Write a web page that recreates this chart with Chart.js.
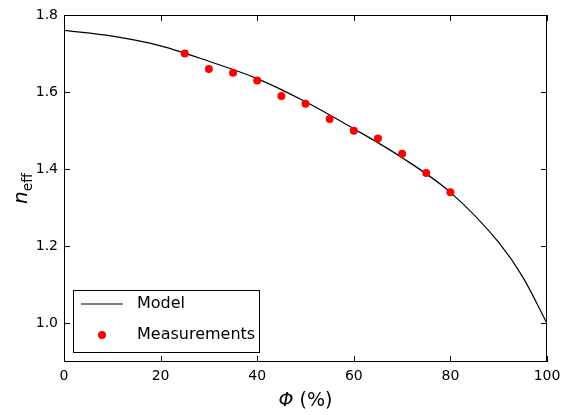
<!DOCTYPE html>
<html>
<head>
<meta charset="utf-8">
<script src="https://cdn.jsdelivr.net/npm/chart.js@4/dist/chart.umd.min.js"></script>
<style>
  body { margin: 0; background: #fff; }
  #wrap { width: 561px; height: 415px; }
</style>
</head>
<body>
<div id="wrap"><canvas id="c"></canvas></div>
<script>
const modelX = [0, 10, 20, 30, 40, 50, 60, 70, 80, 90, 95, 100];
const modelY = [1.76, 1.745, 1.72, 1.68, 1.635, 1.575, 1.505, 1.43, 1.34, 1.21, 1.12, 1.0];
const measX = [25, 30, 35, 40, 45, 50, 55, 60, 65, 70, 75, 80];
const measY = [1.70, 1.66, 1.65, 1.63, 1.59, 1.57, 1.53, 1.50, 1.48, 1.44, 1.39, 1.34];
const xTicks = [0, 20, 40, 60, 80, 100];
const yTicks = [1.0, 1.2, 1.4, 1.6, 1.8];
const FONT = 'DejaVu Sans';

const decor = {
  id: 'decor',
  afterDraw(chart) {
    const ctx = chart.ctx, a = chart.chartArea;
    const xs = chart.scales.x, ys = chart.scales.y;
    ctx.save();
    ctx.strokeStyle = '#000';
    ctx.lineWidth = 1;
    ctx.strokeRect(a.left + 0.5, a.top + 0.5, a.right - a.left - 1, a.bottom - a.top - 1);
    // inward ticks on all sides
    ctx.beginPath();
    xTicks.forEach(v => {
      const p = Math.round(xs.getPixelForValue(v)) + 0.5;
      ctx.moveTo(p, a.bottom); ctx.lineTo(p, a.bottom - 6);
      ctx.moveTo(p, a.top); ctx.lineTo(p, a.top + 6);
    });
    yTicks.forEach(v => {
      const p = Math.round(ys.getPixelForValue(v)) + 0.5;
      ctx.moveTo(a.left, p); ctx.lineTo(a.left + 6, p);
      ctx.moveTo(a.right, p); ctx.lineTo(a.right - 6, p);
    });
    ctx.stroke();
    // axis titles
    ctx.fillStyle = '#000';
    ctx.textBaseline = 'alphabetic';
    const cx = (a.left + a.right) / 2;
    const s1 = 'Φ', s2 = ' (%)';
    ctx.font = 'italic 19px ' + FONT; const w1 = ctx.measureText(s1).width;
    ctx.font = '19px ' + FONT; const w2 = ctx.measureText(s2).width;
    const x0 = cx - (w1 + w2) / 2;
    ctx.font = 'italic 19px ' + FONT; ctx.fillText(s1, x0, 406);
    ctx.font = '19px ' + FONT; ctx.fillText(s2, x0 + w1, 406);
    ctx.save();
    ctx.translate(27, (a.top + a.bottom) / 2);
    ctx.rotate(-Math.PI / 2);
    ctx.font = 'italic 20px ' + FONT;
    const wn = ctx.measureText('n').width;
    ctx.font = '14px ' + FONT;
    const we = ctx.measureText('eff').width;
    const sx = -(wn + we) / 2;
    ctx.font = 'italic 20px ' + FONT; ctx.fillText('n', sx, 0);
    ctx.font = '14px ' + FONT; ctx.fillText('eff', sx + wn, 5);
    ctx.restore();
    // legend
    const lx = 73, ly = 290, lw = 186, lh = 62;
    ctx.fillStyle = '#fff';
    ctx.fillRect(lx, ly, lw, lh);
    ctx.strokeRect(lx + 0.5, ly + 0.5, lw, lh);
    ctx.beginPath();
    ctx.moveTo(lx + 8, ly + 14); ctx.lineTo(lx + 50, ly + 14);
    ctx.stroke();
    ctx.fillStyle = 'red';
    ctx.beginPath(); ctx.arc(lx + 29, ly + 45, 4, 0, Math.PI * 2); ctx.fill();
    ctx.fillStyle = '#000';
    ctx.font = '16px ' + FONT;
    ctx.textBaseline = 'middle';
    ctx.fillText('Model', lx + 64, ly + 14);
    ctx.fillText('Measurements', lx + 64, ly + 45);
    ctx.restore();
  }
};

new Chart(document.getElementById('c'), {
  type: 'scatter',
  data: {
    datasets: [
      {
        label: 'Measurements',
        data: measX.map((x, i) => ({ x: x, y: measY[i] })),
        backgroundColor: 'red',
        borderColor: 'red',
        pointRadius: 4,
        pointBorderWidth: 0
      },
      {
        label: 'Model',
        type: 'line',
        data: modelX.map((x, i) => ({ x: x, y: modelY[i] })),
        borderColor: '#000',
        borderWidth: 1.2,
        pointRadius: 0,
        cubicInterpolationMode: 'monotone',
        fill: false
      }
    ]
  },
  options: {
    responsive: true,
    maintainAspectRatio: false,
    animation: false,
    layout: { padding: { top: 15, right: 0, left: 0, bottom: 0 } },
    plugins: { legend: { display: false }, tooltip: { enabled: false } },
    scales: {
      x: {
        type: 'linear', min: 0, max: 100,
        afterFit: s => { s.height = 53; s.paddingRight = 14; s.paddingLeft = 0; },
        afterBuildTicks: s => { s.ticks = xTicks.map(v => ({ value: v })); },
        grid: { display: false, drawTicks: false },
        border: { display: false },
        ticks: { color: '#000', font: { family: FONT, size: 14 }, padding: 6 }
      },
      y: {
        type: 'linear', min: 0.9, max: 1.8,
        afterFit: s => { s.width = 64; },
        afterBuildTicks: s => { s.ticks = yTicks.map(v => ({ value: v })); },
        grid: { display: false, drawTicks: false },
        border: { display: false },
        ticks: { color: '#000', font: { family: FONT, size: 14 }, padding: 6,
                 callback: v => v.toFixed(1) }
      }
    }
  },
  plugins: [decor]
});
</script>
</body>
</html>
